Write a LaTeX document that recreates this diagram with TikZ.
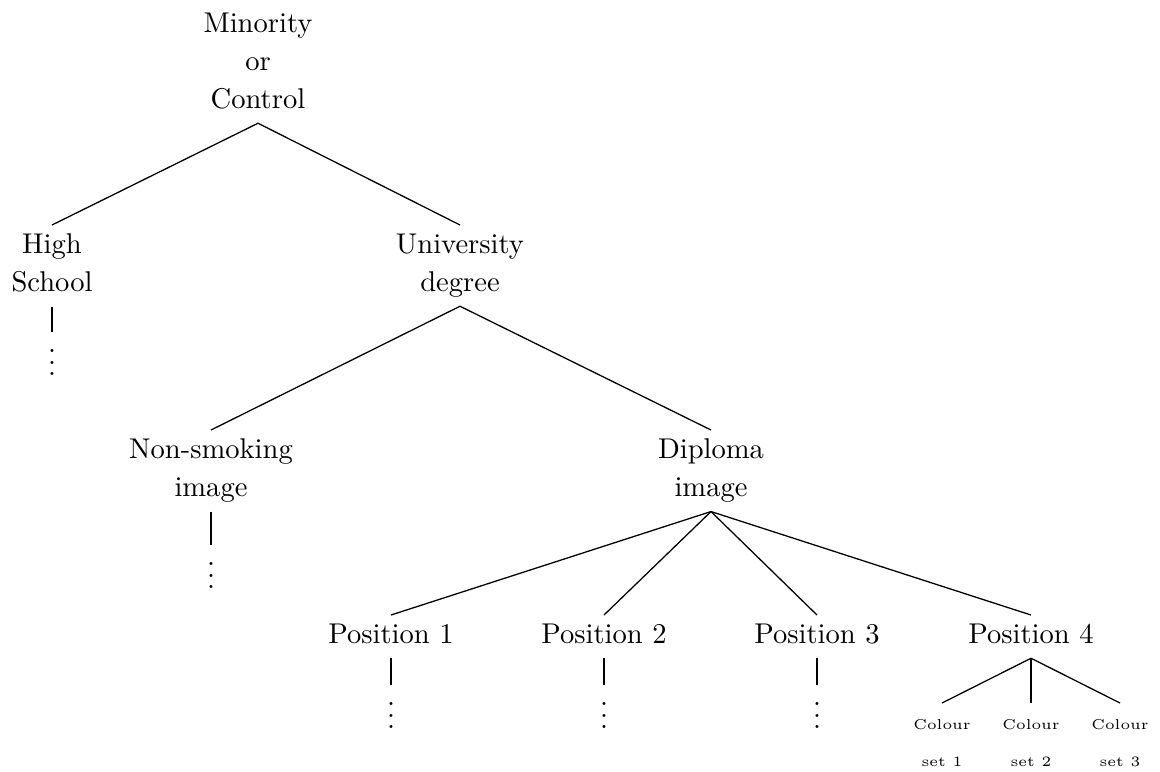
\documentclass[tikz,border=0pt]{standalone}
\begin{document}
\begin{tikzpicture}[x=0.35pt,y=-0.35pt,
  tn/.style={font=\fontsize{10}{13.3}\selectfont, align=center, inner xsep=0pt, inner ysep=3pt, text depth=1.9pt, anchor=north},
  sn/.style={font=\fontsize{5}{13}\selectfont, align=center, inner xsep=0pt, inner ysep=5.5pt, anchor=north},
  dn/.style={font=\fontsize{10}{12}\selectfont, inner sep=0pt, anchor=north},
  br/.style={line width=0.45pt}]
\useasboundingbox (0,0) rectangle (1160,771);
\node[tn] (root) at (258,4) {Minority\\or\\Control};
\node[tn] (hs) at (52,225) {High\\School};
\node[tn] (ud) at (460,225) {University\\degree};
\node[dn] (hsd) at (52,332) {$\vdots$};
\node[tn] (ns) at (211,430) {Non-smoking\\image};
\node[tn] (di) at (711,430) {Diploma\\image};
\node[dn] (nsd) at (211,545) {$\vdots$};
\node[tn] (p1) at (391,615) {Position 1};
\node[tn] (p2) at (604,615) {Position 2};
\node[tn] (p3) at (817,615) {Position 3};
\node[tn] (p4) at (1031,615) {Position 4};
\node[dn] (p1d) at (391,685) {$\vdots$};
\node[dn] (p2d) at (604,685) {$\vdots$};
\node[dn] (p3d) at (817,685) {$\vdots$};
\node[sn] (c1) at (942,703) {Colour\\set 1};
\node[sn] (c2) at (1031,703) {Colour\\set 2};
\node[sn] (c3) at (1120,703) {Colour\\set 3};
\draw[br] (root.south) -- (hs.north);
\draw[br] (root.south) -- (ud.north);
\draw[br] (hs.south) -- (hsd.north);
\draw[br] (ud.south) -- (ns.north);
\draw[br] (ud.south) -- (di.north);
\draw[br] (ns.south) -- (nsd.north);
\draw[br] (di.south) -- (p1.north);
\draw[br] (di.south) -- (p2.north);
\draw[br] (di.south) -- (p3.north);
\draw[br] (di.south) -- (p4.north);
\draw[br] (p1.south) -- (p1d.north);
\draw[br] (p2.south) -- (p2d.north);
\draw[br] (p3.south) -- (p3d.north);
\draw[br] (p4.south) -- (c1.north);
\draw[br] (p4.south) -- (c2.north);
\draw[br] (p4.south) -- (c3.north);
\end{tikzpicture}
\end{document}
